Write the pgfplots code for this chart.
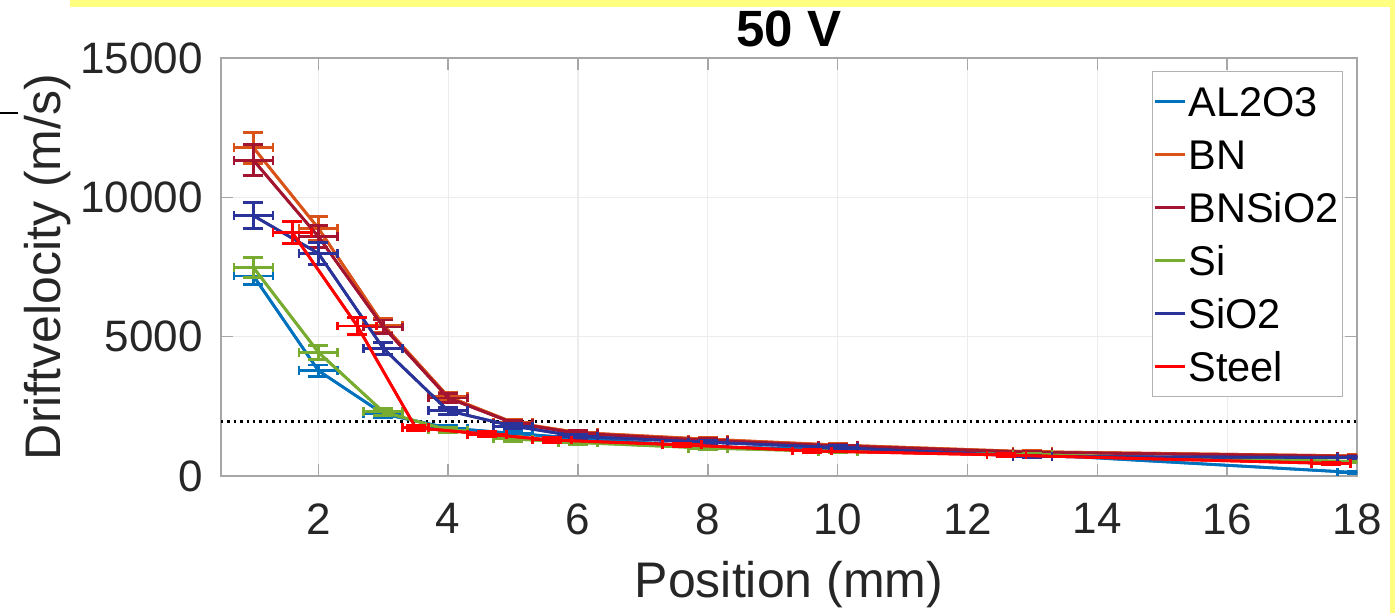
\documentclass[border=0pt]{standalone}
\usepackage{fontspec}
\setmainfont{Liberation Sans}
\usepackage{pgfplots}
\usepackage{pgfplotstable}
\pgfplotsset{compat=1.18}
\definecolor{cA}{rgb}{0,0.447,0.741}
\definecolor{cB}{rgb}{0.85,0.325,0.098}
\definecolor{cC}{rgb}{0.635,0.078,0.184}
\definecolor{cD}{rgb}{0.466,0.674,0.188}
\definecolor{cE}{rgb}{0.16,0.2,0.6}
\definecolor{cF}{rgb}{1,0,0}
\definecolor{ylw}{HTML}{FFFF80}

\pgfplotstableread{
x y ex ey
1 7180 0.3 300
2 3780 0.3 200
3 2230 0.3 120
4 1720 0.3 100
5 1530 0.3 80
6 1350 0.3 80
8 1050 0.3 60
10 950 0.3 60
13 780 0.3 50
18 120 0.3 30
}\tA
\pgfplotstableread{
x y ex ey
1 11780 0.3 560
2 8890 0.3 420
3 5420 0.3 250
4 2850 0.3 150
5 1920 0.3 100
6 1560 0.3 90
8 1320 0.3 70
10 1110 0.3 60
13 870 0.3 50
18 720 0.3 40
}\tB
\pgfplotstableread{
x y ex ey
1 11330 0.3 560
2 8590 0.3 400
3 5350 0.3 250
4 2800 0.3 150
5 1900 0.3 100
6 1530 0.3 90
8 1280 0.3 70
10 1080 0.3 60
13 850 0.3 50
18 700 0.3 40
}\tC
\pgfplotstableread{
x y ex ey
1 7480 0.3 350
2 4440 0.3 250
3 2300 0.3 120
4 1650 0.3 100
5 1330 0.3 80
6 1200 0.3 70
8 1000 0.3 60
10 880 0.3 50
13 760 0.3 50
18 520 0.3 40
}\tD
\pgfplotstableread{
x y ex ey
1 9340 0.3 460
2 7990 0.3 400
3 4580 0.3 220
4 2340 0.3 120
5 1790 0.3 100
6 1420 0.3 80
8 1210 0.3 60
10 1020 0.3 60
13 700 0.3 50
18 660 0.3 40
}\tE
\pgfplotstableread{
x y ex ey
1.6 8730 0.3 400
2.6 5380 0.3 300
3.5 1730 0.2 100
4.6 1500 0.3 90
5.6 1290 0.3 80
7.6 1120 0.3 60
9.6 900 0.3 50
12.6 750 0.3 50
17.6 450 0.3 40
}\tF

\pgfplotsset{
  yerr/.style={line width=1.4pt, #1, forget plot,
    error bars/.cd, y dir=both, y explicit, error mark=|,
    error bar style={line width=1.4pt, #1},
    error mark options={line width=1.4pt, mark size=5pt, #1}},
  xerr/.style={line width=1.4pt, #1, forget plot,
    error bars/.cd, x dir=both, x explicit, error mark=|,
    error bar style={line width=1.4pt, #1},
    error mark options={line width=1.4pt, mark size=2.2pt, #1}},
}
\newcommand{\series}[2]{%
  \addplot[yerr=#2] table[x=x,y=y,y error=ey]{#1};
  \addplot[xerr=#2] table[x=x,y=y,x error=ex]{#1};
}

\begin{document}
\begin{tikzpicture}[x=1pt,y=1pt]
\useasboundingbox (0,0) rectangle (697.5,306.5);
\fill[ylw] (35,303) rectangle (697.5,306.5);
\fill[ylw] (695,0) rectangle (697.5,306.5);
\draw[line width=1pt] (0,250) -- (9,250);
\begin{axis}[
  at={(110.5pt,68.5pt)}, anchor=south west,
  scale only axis, width=568pt, height=209pt,
  xmin=0.5, xmax=18, ymin=0, ymax=15000,
  xtick={2,4,...,18}, ytick={0,5000,10000,15000},
  grid=major, major grid style={gray!15, line width=0.6pt},
  axis line style={gray!70, line width=0.8pt},
  tick style={gray!70, line width=0.8pt}, tick align=inside,
  major tick length=6pt,
  /pgf/number format/assume math mode=true,
  /pgf/number format/1000 sep={},
  scaled y ticks=false,
  tick label style={font=\fontsize{22}{22}\selectfont, text=black!85, inner sep=0pt},
  yticklabel shift=9pt,
  xticklabel shift=13.5pt,
  xlabel={Position (mm)}, ylabel={Driftvelocity (m/s)},
  label style={font=\fontsize{25}{25}\selectfont, text=black!85, inner sep=0pt},
  xlabel style={at={(axis description cs:0.5,-0.2895)}, anchor=base},
  ylabel style={at={(axis description cs:-0.1417,0.5)}, anchor=base},
  title={50 V},
  title style={font=\fontsize{25.5}{25.5}\selectfont\bfseries, inner sep=0pt,
    at={(axis description cs:0.5,1)}, anchor=base, yshift=-0.5pt},
  legend style={at={(axis description cs:1,1)}, anchor=north east,
    xshift=-7pt, yshift=-6.5pt, draw=gray!60, line width=0.6pt,
    font=\fontsize{20.75}{20.75}\selectfont,
    inner xsep=1pt, inner ysep=6.5pt,
    nodes={inner sep=1pt, text height=15pt, text depth=0pt},
    row sep=9.5pt, column sep=0pt},
  legend cell align=left,
  legend image code/.code={\draw[#1, line width=1.2pt] (0pt,0pt) -- (15pt,0pt);},
]
\addlegendimage{cA}\addlegendentry{AL2O3}
\addlegendimage{cB}\addlegendentry{BN}
\addlegendimage{cC}\addlegendentry{BNSiO2}
\addlegendimage{cD}\addlegendentry{Si}
\addlegendimage{cE}\addlegendentry{SiO2}
\addlegendimage{cF}\addlegendentry{Steel}
\addplot[black, dotted, line width=1.2pt, forget plot] coordinates {(0.5,1950) (18,1950)};
\series{\tA}{cA}
\series{\tB}{cB}
\series{\tC}{cC}
\series{\tD}{cD}
\series{\tE}{cE}
\series{\tF}{cF}
\end{axis}
\end{tikzpicture}
\end{document}
